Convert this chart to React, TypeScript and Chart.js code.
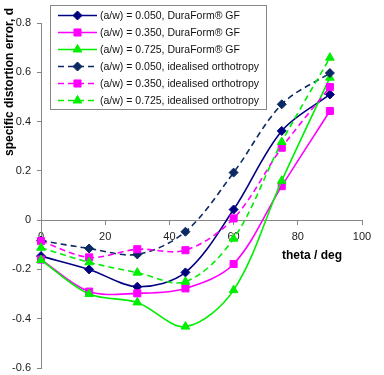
import React, { useEffect, useRef } from 'react';
import { Chart, registerables } from 'chart.js';

Chart.register(...registerables);

// Loading angle (deg) at which each configuration was evaluated
const theta = [0, 15, 30, 45, 60, 75, 90];

// Specific distortion error d, DuraForm GF material data
const duraAw050 = [-0.146, -0.2, -0.27, -0.212, 0.043, 0.362, 0.51];
const duraAw350 = [-0.16, -0.29, -0.297, -0.277, -0.178, 0.138, 0.443];
const duraAw725 = [-0.162, -0.3, -0.334, -0.432, -0.284, 0.16, 0.578];

// Specific distortion error d, idealised orthotropic material
const idealAw050 = [-0.083, -0.115, -0.139, -0.047, 0.193, 0.47, 0.597];
const idealAw350 = [-0.085, -0.151, -0.118, -0.122, 0.007, 0.294, 0.54];
const idealAw725 = [-0.112, -0.171, -0.213, -0.25, -0.075, 0.317, 0.659];

const seriesLabels = [
  '(a/w) = 0.050, DuraForm® GF',
  '(a/w) = 0.350, DuraForm® GF',
  '(a/w) = 0.725, DuraForm® GF',
  '(a/w) = 0.050, idealised orthotropy',
  '(a/w) = 0.350, idealised orthotropy',
  '(a/w) = 0.725, idealised orthotropy',
];

const xTickValues = [0, 20, 40, 60, 80, 100];
const yTickValues = [-0.6, -0.4, -0.2, 0, 0.2, 0.4, 0.6, 0.8];

const xTitle = 'theta / deg';
const yTitle = 'specific distortion error, d';

const FONT = '"Liberation Sans", Arial, sans-serif';
const NAVY = '#000080';
const NAVY_DASH = '#0b2a63';
const MAGENTA = '#ff00ff';
const GREEN = '#00ee00';
const AXIS_GREY = '#868686';

type Marker = 'rectRot' | 'rect' | 'triangle';

const seriesValues = [duraAw050, duraAw350, duraAw725, idealAw050, idealAw350, idealAw725];
const seriesColors = [NAVY, MAGENTA, GREEN, NAVY_DASH, MAGENTA, GREEN];
const seriesMarkers: Marker[] = ['rectRot', 'rect', 'triangle', 'rectRot', 'rect', 'triangle'];
const markerRadius: Record<Marker, number> = { rectRot: 4.5, rect: 5, triangle: 5 };
const seriesDashed = [false, false, false, true, true, true];
const DASH = [6, 4];

function drawMarker(ctx: CanvasRenderingContext2D, style: Marker, x: number, y: number, r: number, color: string) {
  ctx.save();
  ctx.fillStyle = color;
  ctx.strokeStyle = color;
  ctx.lineWidth = 1;
  ctx.setLineDash([]);
  ctx.beginPath();
  if (style === 'rectRot') {
    ctx.moveTo(x, y - r);
    ctx.lineTo(x + r, y);
    ctx.lineTo(x, y + r);
    ctx.lineTo(x - r, y);
  } else if (style === 'rect') {
    const s = r * Math.SQRT1_2;
    ctx.rect(x - s, y - s, 2 * s, 2 * s);
  } else {
    for (let k = 0; k < 3; k++) {
      const a = (k * 2 * Math.PI) / 3;
      const px = x + Math.sin(a) * r;
      const py = y - Math.cos(a) * r;
      if (k === 0) ctx.moveTo(px, py);
      else ctx.lineTo(px, py);
    }
  }
  ctx.closePath();
  ctx.fill();
  ctx.stroke();
  ctx.restore();
}

// Boxed legend inside the plot plus both axis titles
const decorPlugin = {
  id: 'decor',
  afterDraw(chart: any) {
    const ctx: CanvasRenderingContext2D = chart.ctx;
    ctx.save();

    // legend box
    const bx = 50.5;
    const by = 5.5;
    const bw = 216;
    const bh = 104;
    ctx.fillStyle = '#ffffff';
    ctx.fillRect(bx, by, bw, bh);
    ctx.strokeStyle = AXIS_GREY;
    ctx.lineWidth = 1;
    ctx.strokeRect(bx, by, bw, bh);

    chart.data.datasets.forEach((ds: any, i: number) => {
      const y = 15.5 + i * 17;
      ctx.save();
      ctx.strokeStyle = ds.borderColor;
      ctx.lineWidth = ds.borderWidth;
      ctx.setLineDash(ds.borderDash || []);
      ctx.beginPath();
      ctx.moveTo(58, y);
      ctx.lineTo(97, y);
      ctx.stroke();
      ctx.restore();
      drawMarker(ctx, ds.pointStyle, 77.5, y, ds.pointRadius, ds.pointBackgroundColor);
      ctx.fillStyle = '#111';
      ctx.font = `10.5px ${FONT}`;
      ctx.textAlign = 'left';
      ctx.textBaseline = 'middle';
      ctx.fillText(ds.label, 100, y + 0.5);
    });

    // axis titles
    ctx.fillStyle = '#000';
    ctx.font = `bold 12px ${FONT}`;
    ctx.textAlign = 'center';
    ctx.textBaseline = 'middle';
    ctx.fillText(xTitle, 312, 256);

    ctx.translate(10, 82);
    ctx.rotate(-Math.PI / 2);
    ctx.fillText(yTitle, 0, 0);
    ctx.restore();
  },
};

function DistortionChart() {
  const canvasRef = useRef<HTMLCanvasElement | null>(null);

  useEffect(() => {
    document.body.style.margin = '0';
    const canvas = canvasRef.current;
    if (!canvas) return;

    const datasets = seriesValues.map((vals, i) => ({
      label: seriesLabels[i],
      data: theta.map((t, j) => ({ x: t, y: vals[j] })),
      borderColor: seriesColors[i],
      backgroundColor: seriesColors[i],
      pointBackgroundColor: seriesColors[i],
      pointBorderColor: seriesColors[i],
      pointBorderWidth: 1,
      pointStyle: seriesMarkers[i],
      pointRadius: markerRadius[seriesMarkers[i]],
      borderWidth: 1.6,
      borderDash: seriesDashed[i] ? DASH : [],
      tension: 0.33,
      fill: false,
      clip: false as const,
      order: seriesValues.length - 1 - i,
    }));

    const chart = new Chart(canvas, {
      type: 'line',
      data: { datasets },
      options: {
        responsive: false,
        animation: false,
        devicePixelRatio: 1,
        layout: { padding: { left: 0, right: 22, top: 23, bottom: 7 } },
        plugins: {
          legend: { display: false },
          tooltip: { enabled: false },
        },
        scales: {
          x: {
            type: 'linear',
            min: 0,
            max: 100,
            position: { y: 0 } as any,
            afterBuildTicks: (scale: any) => {
              scale.ticks = xTickValues.map((v) => ({ value: v }));
            },
            ticks: {
              color: '#222',
              font: { family: FONT, size: 11 },
              padding: 6,
              maxRotation: 0,
              callback: (v: any) => String(v),
            },
            grid: {
              drawOnChartArea: false,
              drawTicks: true,
              tickLength: 4,
              color: AXIS_GREY,
            },
            border: { display: true, color: AXIS_GREY, width: 1 },
          },
          y: {
            type: 'linear',
            min: -0.6,
            max: 0.8,
            afterBuildTicks: (scale: any) => {
              scale.ticks = yTickValues.map((v) => ({ value: v }));
            },
            afterFit: (scale: any) => {
              scale.width = 41;
              scale.paddingTop = 0;
              scale.paddingBottom = 0;
            },
            ticks: {
              color: '#222',
              font: { family: FONT, size: 11, lineHeight: 0.1 },
              padding: 6,
              callback: (v: any) => {
                const n = Math.round(Number(v) * 10) / 10;
                return n === 0 ? '0' : n.toFixed(1);
              },
            },
            grid: {
              drawOnChartArea: false,
              drawTicks: true,
              tickLength: 4,
              color: AXIS_GREY,
            },
            border: { display: true, color: AXIS_GREY, width: 1 },
          },
        },
      },
      plugins: [decorPlugin],
    });

    return () => chart.destroy();
  }, []);

  return <canvas ref={canvasRef} width={384} height={375} style={{ display: 'block' }} />;
}

export default function App() {
  return <DistortionChart />;
}
